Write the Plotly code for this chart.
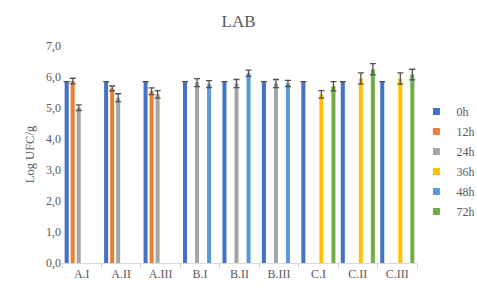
import plotly.graph_objects as go

categories = ["A.I", "A.II", "A.III", "B.I", "B.II", "B.III", "C.I", "C.II", "C.III"]
series_names = ["0h", "12h", "24h", "36h", "48h", "72h"]

v_0h = [5.85, 5.85, 5.85, 5.85, 5.85, 5.85, 5.85, 5.85, 5.85]
e_0h = [0, 0, 0, 0, 0, 0, 0, 0, 0]
v_12h = [5.87, 5.63, 5.54, None, None, None, None, None, None]
e_12h = [0.09, 0.08, 0.11, 0, 0, 0, 0, 0, 0]
v_24h = [5.01, 5.33, 5.44, 5.82, 5.79, 5.79, None, None, None]
e_24h = [0.09, 0.13, 0.12, 0.13, 0.13, 0.13, 0, 0, 0]
v_36h = [None, None, None, None, None, None, 5.44, 5.95, 5.95]
e_36h = [0, 0, 0, 0, 0, 0, 0.12, 0.18, 0.18]
v_48h = [None, None, None, 5.77, 6.12, 5.79, None, None, None]
e_48h = [0, 0, 0, 0.11, 0.10, 0.10, 0, 0, 0]
v_72h = [None, None, None, None, None, None, 5.70, 6.25, 6.08]
e_72h = [0, 0, 0, 0, 0, 0, 0.15, 0.18, 0.17]

values = [v_0h, v_12h, v_24h, v_36h, v_48h, v_72h]
errors = [e_0h, e_12h, e_24h, e_36h, e_48h, e_72h]
colors = ["#4472C4", "#ED7D31", "#A5A5A5", "#FFC000", "#5B9BD5", "#70AD47"]

font_family = "Liberation Serif"
gray = "#595959"

fig = go.Figure()
for name, vals, errs, col in zip(series_names, values, errors, colors):
    fig.add_trace(go.Bar(
        x=categories, y=vals, name=name, marker_color=col,
        marker_line_width=0, showlegend=False,
        error_y=dict(type="data", array=errs, visible=True,
                     color="#505050", thickness=1.3, width=3),
    ))
for name, col in zip(series_names, colors):
    fig.add_trace(go.Scatter(
        x=[None], y=[None], mode="markers", name=name, legendgroup=name,
        marker=dict(symbol="square", size=7, color=col),
    ))

fig.update_layout(
    width=477, height=292,
    margin=dict(l=62, r=60, t=46, b=29, autoexpand=False),
    paper_bgcolor="white", plot_bgcolor="white",
    separators=",.",
    barmode="group", bargap=0.085, bargroupgap=0.33,
    font=dict(family=font_family, color=gray, size=12),
    title=dict(text="LAB", x=0.5, xanchor="center", y=0.928, yanchor="middle",
               font=dict(family=font_family, size=17, color=gray)),
    legend=dict(xref="container", yref="container", x=0.873, xanchor="left",
                y=0.447, yanchor="middle",
                font=dict(family=font_family, size=12, color=gray),
                itemwidth=30, tracegroupgap=1, bgcolor="rgba(0,0,0,0)"),
)
fig.update_xaxes(
    showline=True, linecolor="#d9d9d9", linewidth=1,
    ticks="outside", tickson="boundaries", ticklen=5, tickcolor="#d9d9d9",
    showgrid=False, tickfont=dict(size=12, color=gray), automargin=False,
)
fig.update_yaxes(
    range=[0, 7], dtick=1, tickformat=".1f", showgrid=False,
    showline=False, zeroline=False, ticks="", automargin=False,
    tickfont=dict(size=12, color=gray),
    title=dict(text="Log UFC/g", font=dict(size=12.5, color=gray), standoff=8),
)

fig.write_html("out.html", config={"displayModeBar": False},
               post_script="document.body.style.margin='0';")
